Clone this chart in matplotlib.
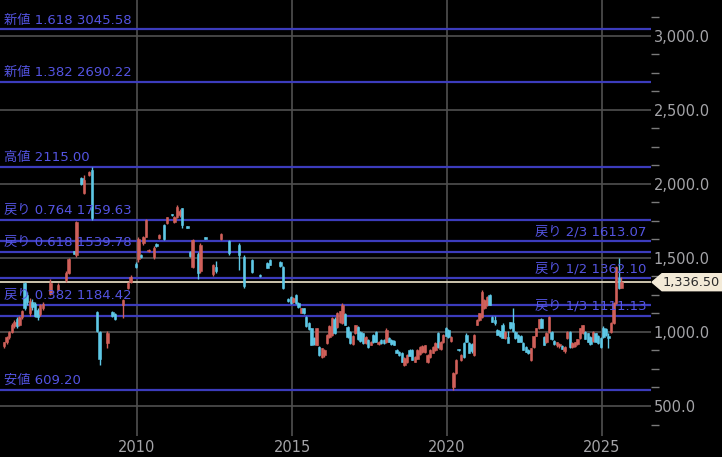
import matplotlib
matplotlib.use('Agg')
import matplotlib.pyplot as plt
import numpy as np
from matplotlib.patches import Polygon
from matplotlib.transforms import IdentityTransform
from matplotlib.ticker import MultipleLocator, FixedLocator, FuncFormatter

plt.rcParams['font.family'] = ['DejaVu Sans', 'Noto Sans CJK JP']

# ---------------- data ----------------
start_year, start_month = 2005, 9   # first monthly candle: Sep 2005

month_idx = [0, 1, 2, 3, 4, 5, 6, 7, 8, 9, 10, 11, 12, 13, 14, 15, 18, 21, 24, 25,
             27, 28, 30, 31, 33, 34, 36, 37, 40, 42, 43, 46, 48, 49, 51, 52, 53, 54, 55, 56,
             58, 59, 60, 62, 63, 65, 66, 67, 68, 69, 71, 72, 73, 75, 76, 78, 81, 82, 84, 87,
             91, 93, 96, 99, 102, 103, 107, 108,
             110, 111, 112, 113, 114, 115, 116, 117, 118, 119, 120, 121, 122, 123, 124, 125,
             126, 127, 128, 129, 130, 131, 132, 133, 134, 135, 136, 137, 138, 139, 140, 141,
             142, 143, 144, 145, 146, 147, 148, 149, 150, 151, 152, 153, 154, 155, 156, 157,
             158, 159, 160, 161, 162, 163, 164, 165, 166, 167, 168, 169, 170, 171, 172, 173,
             174, 175, 176, 177, 178, 179, 180, 181, 182, 183, 184, 185, 186, 187, 188, 189,
             190, 191, 192, 193, 194, 195, 196, 197, 198, 199, 200, 201, 202, 203, 204, 205,
             206, 207, 208, 209, 210, 211, 212, 213, 214, 215, 216, 217, 218, 219, 220, 221,
             222, 223, 224, 225, 226, 227, 228, 229, 230, 231, 232, 233, 234, 235, 236, 237,
             238, 239]

opens = [905, 930, 965, 1000, 1040, 1090, 1050, 1100, 1330, 1250, 1130, 1200, 1190, 1150, 1120, 1160, 1260, 1285, 1350, 1400,
         1545, 1520, 2040, 1940, 2060, 2095, 1135, 1000, 925, 1135, 1120, 1180, 1300, 1340, 1460, 1490, 1520, 1600, 1645, 1545,
         1510, 1595, 1635, 1725, 1735, 1795, 1740, 1780, 1790, 1835, 1710, 1540, 1440, 1530, 1410, 1640, 1390, 1440, 1625, 1615,
         1590, 1505, 1485, 1385, 1465, 1485, 1475, 1440,
         1225, 1238, 1200, 1250, 1195, 1130, 1160, 1100, 1060, 1027, 960, 915, 900, 832, 845, 925,
         965, 980, 1090, 1034, 1065, 1061, 1120, 1034, 1000, 920, 993, 1034, 1000, 990, 925, 946,
         915, 980, 1000, 920, 945, 945, 932, 960, 945, 940, 880, 865, 858, 777, 795, 880,
         878, 800, 820, 850, 865, 865, 797, 830, 860, 878, 993, 885, 932, 1030, 1013, 940,
         628, 725, 880, 812, 925, 980, 925, 920, 845, 1047, 1080, 1100, 1162, 1180, 1250, 1100,
         1080, 1013, 1005, 1047, 960, 966, 1067, 1060, 1000, 980, 975, 926, 899, 880, 811, 899,
         975, 1027, 1090, 966, 930, 1000, 1000, 940, 910, 905, 905, 870, 960, 1000, 900, 905,
         920, 960, 993, 1000, 990, 965, 940, 990, 975, 960, 1030, 1020, 975, 1000, 1061, 1196,
         1365, 1300]

highs = [935, 975, 1010, 1060, 1080, 1100, 1110, 1150, 1340, 1270, 1230, 1220, 1200, 1160, 1190, 1200, 1360, 1330, 1410, 1500,
         1550, 1750, 2050, 2060, 2085, 2115, 1140, 1010, 1005, 1140, 1130, 1225, 1340, 1385, 1470, 1640, 1525, 1650, 1765, 1560,
         1580, 1600, 1660, 1730, 1780, 1800, 1785, 1855, 1830, 1840, 1715, 1545, 1630, 1540, 1600, 1645, 1460, 1480, 1670, 1620,
         1600, 1520, 1490, 1390, 1470, 1490, 1480, 1445,
         1230, 1245, 1235, 1255, 1200, 1165, 1165, 1105, 1065, 1030, 965, 1030, 905, 895, 885, 985,
         1045, 1100, 1100, 1135, 1145, 1196, 1125, 1040, 1005, 980, 1050, 1040, 1005, 995, 970, 950,
         940, 985, 1005, 940, 950, 950, 1030, 965, 950, 945, 885, 870, 862, 828, 850, 885,
         882, 835, 885, 905, 910, 915, 850, 885, 905, 930, 1000, 940, 985, 1035, 1020, 970,
         730, 815, 885, 850, 930, 990, 930, 925, 985, 1085, 1130, 1285, 1220, 1240, 1255, 1105,
         1110, 1020, 1010, 1060, 1005, 1010, 1070, 1160, 1005, 985, 980, 930, 905, 885, 895, 975,
         1030, 1090, 1095, 970, 1000, 1105, 1005, 945, 935, 925, 910, 905, 1005, 1005, 930, 935,
         955, 1030, 1050, 1010, 995, 970, 1005, 995, 980, 965, 1040, 1025, 990, 1065, 1200, 1445,
         1500, 1370]

lows = [895, 920, 955, 990, 1030, 1030, 1040, 1090, 1150, 1180, 1110, 1150, 1100, 1080, 1110, 1150, 1250, 1280, 1340, 1390,
        1525, 1510, 1990, 1930, 2055, 1760, 1000, 775, 895, 1100, 1080, 1095, 1290, 1330, 1430, 1470, 1500, 1590, 1640, 1540,
        1490, 1575, 1630, 1620, 1730, 1785, 1735, 1770, 1780, 1700, 1700, 1510, 1430, 1360, 1400, 1625, 1380, 1400, 1620, 1520,
        1420, 1300, 1400, 1370, 1430, 1450, 1440, 1290,
        1205, 1190, 1195, 1190, 1165, 1125, 1120, 1035, 1015, 910, 915, 910, 840, 825, 830, 920,
        960, 975, 985, 1030, 1060, 1055, 1045, 960, 920, 915, 985, 945, 935, 920, 920, 895,
        910, 925, 930, 915, 920, 920, 925, 930, 915, 910, 855, 840, 795, 770, 790, 835,
        808, 795, 815, 845, 860, 860, 790, 825, 855, 872, 895, 880, 928, 970, 962, 935,
        609, 715, 870, 805, 825, 930, 855, 860, 840, 1045, 1075, 1095, 1155, 1175, 1180, 1065,
        1050, 978, 965, 958, 955, 960, 1022, 1000, 955, 930, 930, 875, 862, 850, 805, 895,
        970, 1020, 1025, 910, 925, 995, 945, 915, 900, 895, 885, 860, 955, 895, 890, 900,
        915, 955, 985, 950, 930, 915, 935, 930, 920, 895, 960, 975, 890, 995, 1055, 1190,
        1290, 1295]

closes = [930, 965, 1000, 1050, 1070, 1040, 1100, 1140, 1160, 1200, 1210, 1170, 1110, 1100, 1180, 1190, 1330, 1320, 1400, 1490,
          1530, 1740, 2000, 2025, 2080, 1770, 1010, 820, 995, 1105, 1090, 1215, 1330, 1370, 1440, 1630, 1510, 1640, 1755, 1555,
          1570, 1580, 1655, 1625, 1775, 1790, 1775, 1845, 1820, 1725, 1705, 1515, 1620, 1400, 1590, 1630, 1450, 1410, 1665, 1535,
          1520, 1310, 1405, 1375, 1435, 1455, 1445, 1300,
          1210, 1196, 1230, 1195, 1170, 1160, 1125, 1040, 1020, 915, 920, 1025, 845, 890, 880, 980,
          1040, 1094, 990, 1128, 1140, 1182, 1050, 966, 925, 975, 1047, 950, 940, 925, 965, 899,
          935, 930, 935, 935, 925, 925, 1013, 935, 920, 915, 860, 845, 800, 824, 845, 840,
          811, 830, 880, 900, 905, 912, 845, 880, 900, 926, 899, 935, 980, 975, 966, 966,
          723, 810, 875, 845, 832, 935, 860, 870, 980, 1080, 1128, 1270, 1215, 1235, 1185, 1068,
          1060, 982, 970, 962, 1000, 925, 1027, 1005, 960, 935, 935, 880, 866, 855, 892, 973,
          1027, 1088, 1030, 912, 995, 1101, 950, 920, 930, 920, 888, 900, 1000, 900, 925, 930,
          950, 1027, 1047, 955, 935, 920, 1000, 935, 925, 899, 965, 980, 960, 1061, 1196, 1440,
          1300, 1336.5]

fib_values = [3045.58, 2690.22, 2115.00, 1759.63, 1539.78, 1184.42, 609.20]
fib_labels = ['新値 1.618 3045.58', '新値 1.382 2690.22', '高値 2115.00',
              '戻り 0.764 1759.63', '戻り 0.618 1539.78', '戻り 0.382 1184.42', '安値 609.20']
third_values = [1613.07, 1362.10, 1111.13]
third_labels = ['戻り 2/3 1613.07', '戻り 1/2 1362.10', '戻り 1/3 1111.13']
last_price = 1336.50
year_ticks = [2010, 2015, 2020, 2025]
year_tick_labels = ['2010', '2015', '2020', '2025']
price_ticks = [500, 1000, 1500, 2000, 2500, 3000]

# ---------------- styling ----------------
BG = '#000000'
UP = '#d0605a'
DOWN = '#5ec8e6'
FIB_LINE = '#3c3cbc'
FIB_TEXT = '#5454e2'
GRID = '#505050'
TICK_TEXT = '#a4a4a8'
LAST_LINE = '#ddd4bc'
TAG_FACE = '#f3ead7'

W, H = 722, 457
fig = plt.figure(figsize=(W / 100, H / 100), dpi=100, facecolor=BG)
ax = fig.add_axes([0, 21 / H, 651 / W, 436 / H], facecolor=BG)

xs = start_year + (start_month - 1 + np.array(month_idx) + 0.5) / 12.0
o = np.array(opens, float)
h = np.array(highs, float)
l = np.array(lows, float)
c = np.array(closes, float)
up = c >= o
colors = np.where(up, UP, DOWN)

ax.set_xlim(2005.58, 2026.58)
ax.set_ylim(297.3, 3243.2)

# grid
for v in price_ticks:
    ax.axhline(v, color=GRID, lw=1.2, zorder=1)
for yv in year_ticks:
    ax.axvline(yv, color=GRID, lw=1.2, zorder=1)

# fib lines
for v in fib_values + third_values:
    ax.axhline(v, color=FIB_LINE, lw=1.6, zorder=2)
ax.axhline(last_price, color=LAST_LINE, lw=1.3, zorder=2)

# candles
ax.vlines(xs, l, h, colors=colors, lw=1.0, zorder=3)
body_bottom = np.minimum(o, c)
body_h = np.maximum(np.abs(c - o), 10)
ax.bar(xs, body_h, bottom=body_bottom, width=0.078, color=colors,
       edgecolor=colors, lw=0.4, zorder=4)

# labels
for v, t in zip(fib_values, fib_labels):
    ax.annotate(t, xy=(0, v), xycoords=('axes fraction', 'data'),
                xytext=(3, 2), textcoords='offset points',
                ha='left', va='bottom', color=FIB_TEXT, fontsize=9.5, zorder=6)
for v, t in zip(third_values, third_labels):
    ax.annotate(t, xy=(1, v), xycoords=('axes fraction', 'data'),
                xytext=(-3, 2), textcoords='offset points',
                ha='right', va='bottom', color=FIB_TEXT, fontsize=9.5, zorder=6)

# axes ticks
for s in ax.spines.values():
    s.set_visible(False)
ax.yaxis.tick_right()
ax.yaxis.set_major_locator(FixedLocator(price_ticks))
ax.yaxis.set_major_formatter(FuncFormatter(lambda v, p: f'{v:,.1f}'))
ax.yaxis.set_minor_locator(MultipleLocator(125))
ax.tick_params(axis='y', which='major', length=0, pad=2, labelsize=10.5, labelcolor=TICK_TEXT)
ax.tick_params(axis='y', which='minor', length=6, width=1, color='#7a7a7a')
ax.set_xticks(year_ticks)
ax.set_xticklabels(year_tick_labels)
ax.tick_params(axis='x', length=0, pad=3, labelsize=10.5, labelcolor=TICK_TEXT)

# last price tag
yc = ax.transData.transform((2010, last_price))[1]
x0 = ax.transAxes.transform((1, 0))[0]
pts = [(x0 + 1, yc), (x0 + 11, yc + 8.5), (W, yc + 8.5), (W, yc - 8.5), (x0 + 11, yc - 8.5)]
fig.add_artist(Polygon(pts, closed=True, facecolor=TAG_FACE, edgecolor=TAG_FACE,
                       transform=IdentityTransform(), zorder=10))
fig.text(x0 + 10 + (W - x0 - 10) / 2, yc, f'{last_price:,.2f}', transform=IdentityTransform(),
         ha='center', va='center', fontsize=9.3, color='#2a2a2a', zorder=11)

fig.savefig('out.png', dpi=100, facecolor=BG)
